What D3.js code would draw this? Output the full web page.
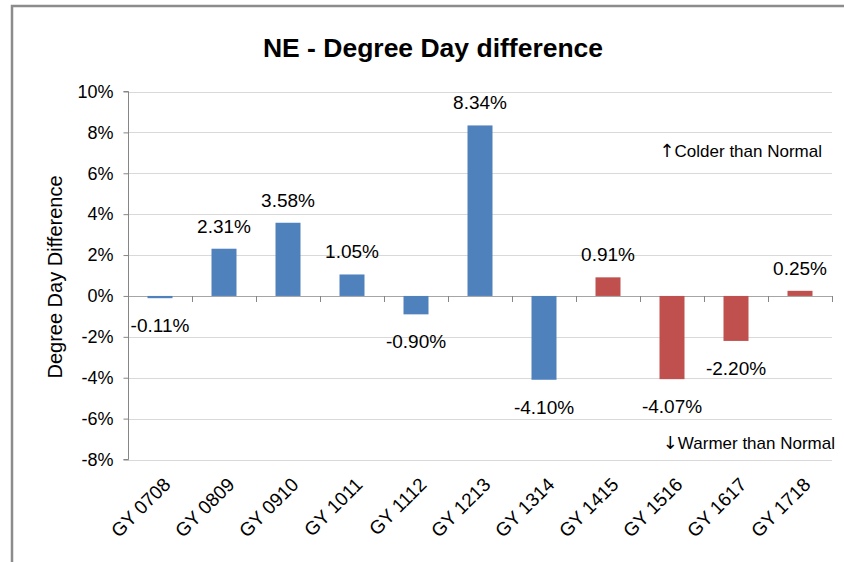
<!DOCTYPE html>
<html>
<head>
<meta charset="utf-8">
<script src="https://cdn.jsdelivr.net/npm/d3@7"></script>
<style>
  body { margin: 0; background: #fff; }
  svg { display: block; font-family: "Liberation Sans", Arial, sans-serif; }
</style>
</head>
<body>
<svg id="chart" width="844" height="562"></svg>
<script>
const categories = ["GY 0708","GY 0809","GY 0910","GY 1011","GY 1112","GY 1213","GY 1314","GY 1415","GY 1516","GY 1617","GY 1718"];
const values = [-0.11, 2.31, 3.58, 1.05, -0.90, 8.34, -4.10, 0.91, -4.07, -2.20, 0.25];
const seriesGroup = ["blue","blue","blue","blue","blue","blue","blue","red","red","red","red"];
const yTicks = [10, 8, 6, 4, 2, 0, -2, -4, -6, -8];
const colors = { blue: "#4F81BD", red: "#C0504D" };

const svg = d3.select("#chart");
const plotLeft = 128, plotRight = 832, plotTop = 91.5, plotBottom = 459.5;

// outer frame
svg.append("rect").attr("x", 12).attr("y", 6).attr("width", 850).attr("height", 570)
  .attr("fill", "#fff").attr("stroke", "#8c8c8c").attr("stroke-width", 2.5);

const x = d3.scaleBand().domain(categories).range([plotLeft, plotRight]).paddingInner(0).paddingOuter(0);
const y = d3.scaleLinear().domain([-8, 10]).range([plotBottom, plotTop]);
const barW = 25;

// gridlines
svg.append("g").selectAll("line").data(yTicks).join("line")
  .attr("x1", plotLeft).attr("x2", plotRight)
  .attr("y1", d => Math.round(y(d)) + 0.5).attr("y2", d => Math.round(y(d)) + 0.5)
  .attr("stroke", d => d === 0 ? "#a6a6a6" : "#d9d9d9").attr("stroke-width", 1);

// y axis
const yAxis = d3.axisLeft(y).tickValues(yTicks).tickSize(5).tickPadding(10).tickFormat(d => d + "%");
const gy = svg.append("g").attr("transform", `translate(${plotLeft + 0.5},0)`).call(yAxis);
gy.select(".domain").attr("stroke", "#868686").attr("d", `M-5,${y(10)}H0V${y(-8)}H-5`);
gy.selectAll(".tick line").attr("stroke", "#868686");
gy.selectAll(".tick text").attr("font-size", 18).attr("fill", "#000");

// category ticks on zero line
const bounds = d3.range(categories.length + 1).map(i => plotLeft + i * x.bandwidth());
svg.append("g").selectAll("line").data(bounds).join("line")
  .attr("x1", d => Math.round(d) + 0.5).attr("x2", d => Math.round(d) + 0.5)
  .attr("y1", Math.round(y(0))).attr("y2", Math.round(y(0)) + 6)
  .attr("stroke", "#868686");

// bars
svg.append("g").selectAll("rect").data(values).join("rect")
  .attr("x", (d, i) => x(categories[i]) + x.bandwidth() / 2 - barW / 2)
  .attr("width", barW)
  .attr("y", d => y(Math.max(0, d)))
  .attr("height", d => Math.abs(y(d) - y(0)))
  .attr("fill", (d, i) => colors[seriesGroup[i]]);

// data labels
svg.append("g").selectAll("text").data(values).join("text")
  .attr("x", (d, i) => x(categories[i]) + x.bandwidth() / 2)
  .attr("y", d => d >= 0 ? y(d) - 16 : y(d) + 34)
  .attr("text-anchor", "middle")
  .attr("font-size", 19).attr("fill", "#000")
  .text(d => d.toFixed(2) + "%");

// x labels
svg.append("g").selectAll("text").data(categories).join("text")
  .attr("transform", d => `translate(${x(d) + x.bandwidth() / 2 + 7},${481}) rotate(-45)`)
  .attr("text-anchor", "end")
  .attr("dy", "0.35em")
  .attr("font-size", 19).attr("fill", "#000")
  .text(d => d);

// title
svg.append("text").attr("x", 433).attr("y", 57).attr("text-anchor", "middle")
  .attr("font-size", 26.5).attr("font-weight", "bold").attr("fill", "#000")
  .text("NE - Degree Day difference");

// y axis title
svg.append("text").attr("transform", "translate(62,277) rotate(-90)")
  .attr("text-anchor", "middle").attr("font-size", 20).attr("fill", "#000")
  .text("Degree Day Difference");

// annotations
const ann1 = svg.append("text").attr("x", 822).attr("y", 157).attr("text-anchor", "end")
  .attr("font-size", 17).attr("fill", "#000");
ann1.append("tspan").attr("font-family", "DejaVu Sans").attr("font-size", 18).text("↑");
ann1.append("tspan").text("Colder than Normal");
const ann2 = svg.append("text").attr("x", 835).attr("y", 449).attr("text-anchor", "end")
  .attr("font-size", 17).attr("fill", "#000");
ann2.append("tspan").attr("font-family", "DejaVu Sans").attr("font-size", 18).text("↓");
ann2.append("tspan").text("Warmer than Normal");
</script>
</body>
</html>
